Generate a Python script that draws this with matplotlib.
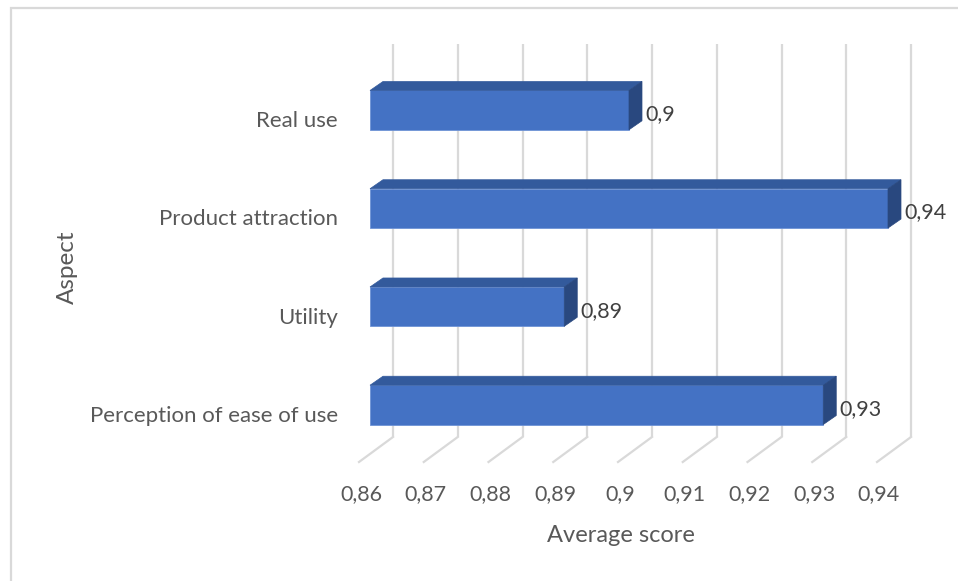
import matplotlib
matplotlib.use("Agg")
import matplotlib.pyplot as plt
from matplotlib.patches import Polygon, Rectangle
from matplotlib.lines import Line2D
from matplotlib.transforms import IdentityTransform, offset_copy

# data
aspects = ["Perception of ease of use", "Utility", "Product attraction", "Real use"]
scores = [0.93, 0.89, 0.94, 0.90]
x_ticks = [0.86, 0.87, 0.88, 0.89, 0.90, 0.91, 0.92, 0.93, 0.94]
x_tick_labels = ["0,86", "0,87", "0,88", "0,89", "0,9", "0,91", "0,92", "0,93", "0,94"]
x_min, x_max = 0.86, 0.94

plt.rcParams["font.family"] = ["Lato", "DejaVu Sans"]

W, H = 958, 581
fig = plt.figure(figsize=(W / 100, H / 100), dpi=100)
# axes = front plane of the bars
ax = fig.add_axes([370 / W, 1 - 454 / H, 518 / W, 393 / H])
ax.set_xlim(x_min, x_max)
ax.set_ylim(-0.5, len(aspects) - 0.5)
ax.axis("off")

grid_col = "#D9D9D9"
text_col = "#595959"
front_col = "#4472C4"
top_col = "#335A9C"
side_col = "#29487F"

# plane offsets in pixels: back wall, floor front edge, bar depth
wall_dx, wall_dy = 23, 17
floor_dx, floor_dy = -11, -8
bar_dx, bar_dy = 13, 9

fig.canvas.draw()
to_px = ax.transData.transform

# back wall gridlines
wall = offset_copy(ax.transData, fig=fig, x=wall_dx, y=wall_dy, units="dots")
ax.vlines(x_ticks, -0.5, len(aspects) - 0.5, transform=wall, color=grid_col,
          lw=1.6, clip_on=False, zorder=1)

# floor lines running to the front edge
for t in x_ticks:
    px, py = to_px((t, -0.5))
    fig.add_artist(Line2D([px + wall_dx, px + floor_dx], [py + wall_dy, py + floor_dy],
                          transform=IdentityTransform(), color=grid_col, lw=1.6, zorder=1))

# 3d bars: front face, top face, right side face
bar_h = 0.4
ax.barh(range(len(aspects)), [s - x_min for s in scores], left=x_min, height=bar_h,
        color=front_col, edgecolor="#6E93D6", linewidth=0.6, zorder=3, clip_on=False)
for i, s in enumerate(scores):
    (x0, y0), (x1, y1) = to_px((x_min, i - bar_h / 2)), to_px((s, i + bar_h / 2))
    top = [(x0, y1), (x1, y1), (x1 + bar_dx, y1 + bar_dy), (x0 + bar_dx, y1 + bar_dy)]
    side = [(x1, y0), (x1, y1), (x1 + bar_dx, y1 + bar_dy), (x1 + bar_dx, y0 + bar_dy)]
    fig.add_artist(Polygon(top, closed=True, transform=IdentityTransform(),
                           facecolor=top_col, edgecolor=top_col, lw=0.5, zorder=2))
    fig.add_artist(Polygon(side, closed=True, transform=IdentityTransform(),
                           facecolor=side_col, edgecolor=side_col, lw=0.5, zorder=2))

# value labels
val_tr = offset_copy(ax.transData, fig=fig, x=16, y=-4, units="dots")
for i, s in enumerate(scores):
    ax.text(s, i, f"{s:g}".replace(".", ","), transform=val_tr, ha="left", va="center",
            fontsize=15.5, color="#404040", zorder=5)

# category labels
cat_tr = offset_copy(ax.transData, fig=fig, x=-32, y=-11, units="dots")
for i, name in enumerate(aspects):
    ax.text(x_min, i, name, transform=cat_tr, ha="right", va="center",
            fontsize=16, color=text_col)

# value axis labels under the floor
tick_tr = offset_copy(ax.transData, fig=fig, x=-9, y=-40, units="dots")
for t, lab in zip(x_ticks, x_tick_labels):
    ax.text(t, -0.5, lab, transform=tick_tr, ha="center", va="center",
            fontsize=15.5, color=text_col)

fig.text(621 / W, 1 - 535 / H, "Average score", ha="center", va="center",
         fontsize=17, color=text_col)
fig.text(67 / W, 1 - 267 / H, "Aspect", ha="center", va="center", rotation=90,
         fontsize=17.5, color=text_col)

# chart border
fig.add_artist(Rectangle((11 / W, -0.1), 2, 1.1 - 8 / H, transform=fig.transFigure,
                         fill=False, edgecolor=grid_col, lw=1.6))

fig.savefig("out.png", dpi=100)
